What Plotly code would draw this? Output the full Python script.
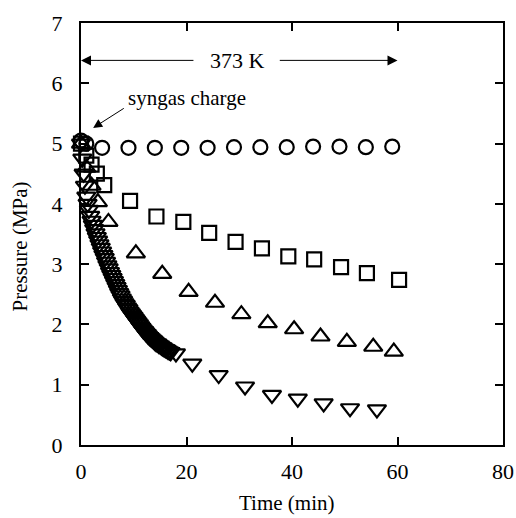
import plotly.graph_objects as go

# Circles (nearly constant pressure)
t_circ = [0, 1, 4, 9, 14, 19, 24, 29, 34, 39, 44, 49, 54, 59]
p_circ = [5.05, 5.0, 4.93, 4.93, 4.93, 4.93, 4.93, 4.94, 4.94, 4.94, 4.95, 4.95, 4.94, 4.95]

# Squares
t_sq = [0, 1, 2, 3, 4.4, 9.3, 14.3, 19.4, 24.3, 29.3, 34.3, 39.3, 44.2, 49.3, 54.2, 60.3]
p_sq = [5.0, 4.8, 4.65, 4.5, 4.31, 4.05, 3.79, 3.70, 3.52, 3.37, 3.26, 3.13, 3.08, 2.95, 2.85, 2.74]

# Upward triangles
t_up = [0, 1, 2, 3.2, 5.2, 10.4, 15.4, 20.4, 25.4, 30.4, 35.4, 40.4, 45.4, 50.4, 55.4, 59.3]
p_up = [5.0, 4.6, 4.3, 4.03, 3.70, 3.18, 2.84, 2.54, 2.36, 2.17, 2.02, 1.92, 1.80, 1.71, 1.63, 1.55]

# Downward triangles (dense sampling early, then sparse)
t_dn = [0, 0.25, 0.5, 0.75, 1.0, 1.25, 1.5, 1.75, 2.0, 2.25, 2.5, 2.75, 3.0, 3.25,
        3.5, 3.75, 4.0, 4.25, 4.5, 4.75, 5.0, 5.25, 5.5, 5.75, 6.0, 6.25, 6.5, 6.75,
        7.0, 7.25, 7.5, 7.75, 8.0, 8.25, 8.5, 8.75, 9.0, 9.25, 9.5, 9.75, 10.0, 10.25,
        10.5, 10.75, 11.0, 11.25, 11.5, 11.75, 12.0, 12.25, 12.5, 12.75, 13.0, 13.25,
        13.5, 13.75, 14.0, 14.25, 14.5, 14.75, 15.0, 15.25, 15.5, 15.75, 16.0, 16.25,
        16.5, 16.75, 17.0,
        18.0, 21.1, 26.1, 31.1, 36.2, 41.1, 46.0, 51.0, 56.1]
p_dn = [5.0, 4.75, 4.5, 4.3, 4.12, 4.0, 3.9, 3.8, 3.72, 3.65, 3.58, 3.51, 3.45, 3.39,
        3.33, 3.27, 3.21, 3.15, 3.10, 3.04, 2.98, 2.93, 2.87, 2.82, 2.77, 2.72, 2.67, 2.62,
        2.57, 2.52, 2.48, 2.43, 2.39, 2.35, 2.32, 2.28, 2.25, 2.21, 2.18, 2.15, 2.12, 2.09,
        2.06, 2.03, 2.0, 1.97, 1.94, 1.91, 1.89, 1.86, 1.84, 1.81, 1.79, 1.77,
        1.75, 1.73, 1.71, 1.69, 1.68, 1.66, 1.65, 1.63, 1.62, 1.60, 1.59, 1.58,
        1.56, 1.55, 1.54,
        1.52, 1.35, 1.16, 0.97, 0.83, 0.77, 0.69, 0.61, 0.59]

x_ticks = [0, 20, 40, 60, 80]
y_ticks = [0, 1, 2, 3, 4, 5, 6, 7]

FONT = "Liberation Serif, Times New Roman, serif"

fig = go.Figure()

def add(t, p, sym, size):
    fig.add_trace(go.Scatter(
        x=t, y=p, mode="markers", cliponaxis=False, showlegend=False,
        marker=dict(symbol=sym, size=size, color="black",
                    line=dict(color="black", width=2.2)),
    ))

add(t_circ, p_circ, "circle-open", 14)
add(t_sq, p_sq, "square-open", 14)
add(t_up, p_up, "triangle-up-open", 16)
add(t_dn, p_dn, "triangle-down-open", 16)

# 373 K double arrow
fig.add_annotation(x=0, y=6.38, ax=21.6, ay=6.38, xref="x", yref="y", axref="x", ayref="y",
                   text="", showarrow=True, arrowhead=2, arrowsize=2, arrowwidth=1,
                   arrowcolor="black")
fig.add_annotation(x=60, y=6.38, ax=37.4, ay=6.38, xref="x", yref="y", axref="x", ayref="y",
                   text="", showarrow=True, arrowhead=2, arrowsize=2, arrowwidth=1,
                   arrowcolor="black")
fig.add_annotation(x=29.6, y=6.38, xref="x", yref="y", text="373 K", showarrow=False,
                   font=dict(family=FONT, size=22, color="black"))

# syngas charge
fig.add_annotation(x=2.3, y=5.26, ax=8.4, ay=5.6, xref="x", yref="y", axref="x", ayref="y",
                   text="", showarrow=True, arrowhead=2, arrowsize=1.8, arrowwidth=1,
                   arrowcolor="black")
fig.add_annotation(x=8.6, y=5.76, xref="x", yref="y", text="syngas charge", showarrow=False,
                   xanchor="left", font=dict(family=FONT, size=21, color="black"))

# axis titles
fig.add_annotation(x=0.488, y=-0.138, xref="paper", yref="paper", text="Time (min)",
                   showarrow=False, xanchor="center", yanchor="middle",
                   font=dict(family=FONT, size=21, color="black"))
fig.add_annotation(x=-0.145, y=0.47, xref="paper", yref="paper", text="Pressure (MPa)",
                   showarrow=False, xanchor="center", yanchor="middle", textangle=-90,
                   font=dict(family=FONT, size=21, color="black"))

axis_common = dict(showgrid=False, zeroline=False, showline=True, linecolor="black",
                   linewidth=2, mirror="ticks", ticks="inside", ticklen=8, tickwidth=1.5,
                   tickcolor="black", tickfont=dict(family=FONT, size=22, color="black"),
                   automargin=False)

fig.update_xaxes(range=[0, 80], tickvals=x_ticks, ticktext=[str(v) for v in x_ticks],
                 ticklabelstandoff=6, **axis_common)
fig.update_yaxes(range=[0, 7], tickvals=y_ticks, ticktext=[str(v) for v in y_ticks],
                 ticklabelstandoff=12, **axis_common)

fig.update_layout(width=516, height=518, plot_bgcolor="white", paper_bgcolor="white",
                  margin=dict(l=81, r=13, t=23, b=73), showlegend=False)

fig.write_html("out.html", config={"displayModeBar": False})

with open("out.html", "r", encoding="utf-8") as f:
    html = f.read()
html = html.replace("<head>", "<head><style>html,body{margin:0;padding:0;overflow:hidden}</style>", 1)
with open("out.html", "w", encoding="utf-8") as f:
    f.write(html)
